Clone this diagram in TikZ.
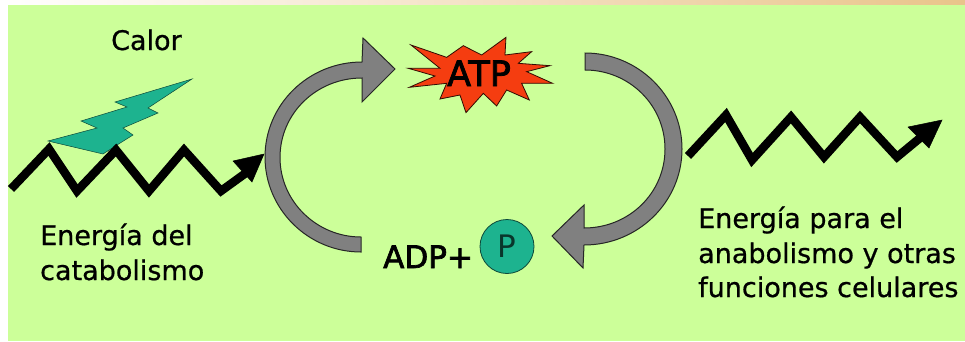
\documentclass[tikz,border=0pt]{standalone}
\usepackage{fontspec}
\setmainfont{DejaVu Sans}
\newfontfamily\heavytext[FakeBold=2.2]{DejaVu Sans}
\newfontfamily\midtext[FakeBold=0.7]{DejaVu Sans}
\definecolor{bggreen}{HTML}{CCFF99}
\definecolor{arcgray}{HTML}{808080}
\definecolor{teal1}{HTML}{1DB38F}
\definecolor{starred}{HTML}{F53D10}
\definecolor{topband}{HTML}{E9C48A}
\tikzset{
  lbl/.style={font=\midtext\fontsize{27}{27}\selectfont, anchor=base west, inner sep=0pt, text=black},
  wave/.style={draw=black, line width=8.5pt, line join=miter, miter limit=3},
  wavehead/.style={fill=black, draw=black, line width=0.5pt},
  cyclearrow/.style={fill=arcgray, draw=black!70!arcgray, line width=1pt, line join=miter},
}
\begin{document}
\begin{tikzpicture}[x=1pt,y=-1pt]
\useasboundingbox (0,0) rectangle (965,341);
\fill[white] (0,0) rectangle (965,341);
\fill[bggreen] (8,4) rectangle (965,341);
\shade[left color=white, middle color=topband, right color=topband] (0,0) rectangle (965,4);

% heat bolt
\fill[teal1, draw=black!60!teal1, line width=0.5pt] (48,141) -- (103,154) -- (117,145) -- (133,135) -- (123,128) -- (158,113) -- (148,108) -- (192,79) -- (115,102) -- (127,107) -- (81,121) -- (97,128) -- cycle;

% left wave
\coordinate (lwstart) at (11,189);
\coordinate (lwend) at (250,170);
\draw[wave] (lwstart) -- (49,149) -- (77,191) -- (116,150) -- (149,191) -- (184,150) -- (221,191) -- (lwend);
\fill[wavehead] (233,161) -- (264,154) -- (252,182) -- cycle;

% right wave
\coordinate (rwstart) at (688,156);
\coordinate (rwend) at (920,138);
\draw[wave] (rwstart) -- (726,115) -- (752,160) -- (791,117) -- (824,157) -- (860,117) -- (897,157) -- (rwend);
\fill[wavehead] (908,127) -- (942,120) -- (929,148) -- cycle;

% cycle arrows
\draw[cyclearrow] (361,252) .. controls (308.4,252) and (265,209.5) .. (265,157)
  .. controls (265,104.5) and (308.4,62) .. (362,62)
  -- (363,38) -- (395,69) -- (362,102) -- (362,78)
  .. controls (316.7,78) and (280,113.1) .. (280,157.5)
  .. controls (280,201.4) and (316.7,237) .. (361,237) -- cycle;
\draw[cyclearrow] (585,53) .. controls (638,53) and (682,96) .. (682,149)
  .. controls (682,202) and (638,245) .. (584,245)
  -- (583,268) -- (552,236) -- (584,205) -- (584,228)
  .. controls (629,228) and (665,193) .. (665,149)
  .. controls (665,105) and (629,70) .. (585,70) -- cycle;

% ATP star
\begin{scope}[shift={(250pt,0pt)}, x=0.3333pt, y=-0.3333pt]
\fill[starred, draw=black!80!starred, line width=0.8pt] (483,135) -- (590,172) -- (640,137) -- (695,165) -- (768,112) -- (765,165) -- (845,155) -- (805,190) -- (900,197) -- (830,215) -- (908,250) -- (815,250) -- (838,300) -- (770,270) -- (740,318) -- (700,280) -- (648,338) -- (630,285) -- (570,297) -- (590,250) -- (478,262) -- (555,228) -- (475,205) -- (570,205) -- cycle;
\end{scope}
\node[lbl, font=\heavytext\fontsize{35}{35}\selectfont] (atp) at (447,86) {ATP};

% ADP + P
\node[lbl, font=\heavytext\fontsize{31}{31}\selectfont] (adp) at (383,268) {ADP+};
\node[circle, fill=teal1, draw=black!60!teal1, line width=0.8pt, minimum size=54pt, inner sep=0pt, text=black!70!teal1, font=\fontsize{31}{31}\selectfont] (phos) at (507,246.5) {P};

% labels
\node[lbl, font=\midtext\fontsize{27}{27}\selectfont] (calor) at (111,50) {Calor};
\node[lbl] (cat1) at (40,245) {Energía del};
\node[lbl] (cat2) at (40,280) {catabolismo};
\node[lbl] (ana1) at (698,228) {Energía para el};
\node[lbl] (ana2) at (698,263) {anabolismo y otras};
\node[lbl] (ana3) at (698,297) {funciones celulares};
\end{tikzpicture}
\end{document}
